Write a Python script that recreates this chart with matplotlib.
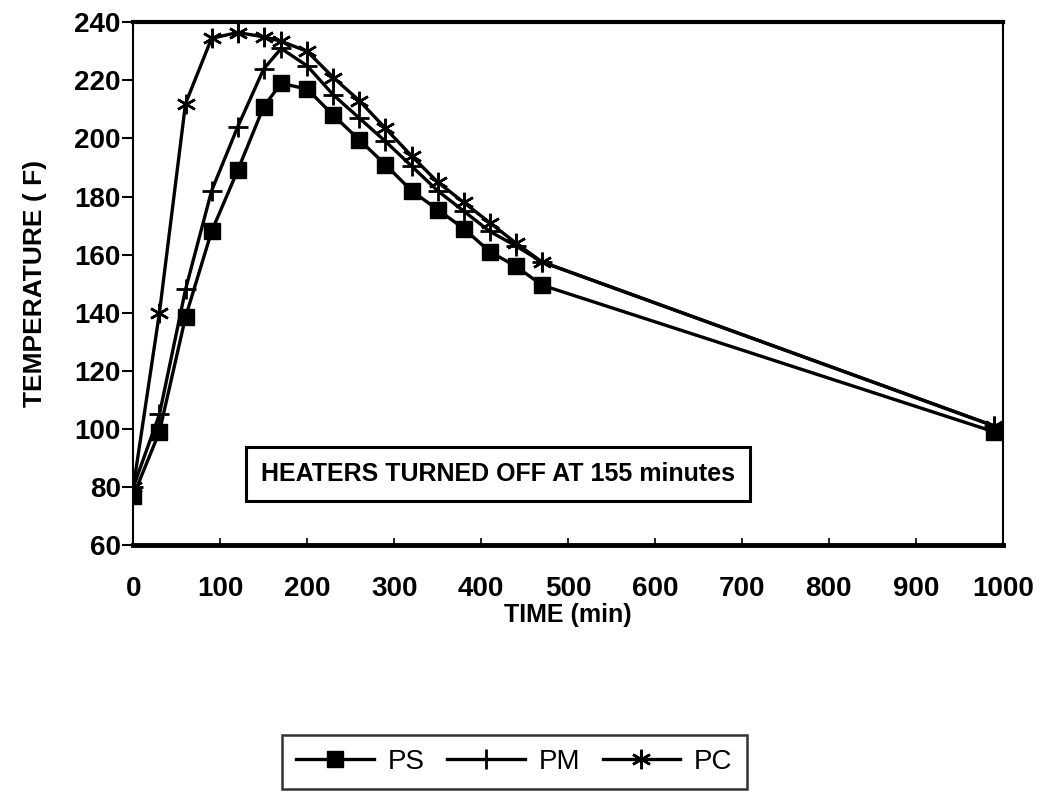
import matplotlib
matplotlib.use("Agg")
import matplotlib.pyplot as plt

plt.rcParams['font.family'] = ['Liberation Sans', 'DejaVu Sans']

# Sample times (min)
time_min = [0, 30, 60, 90, 120, 150, 170, 200, 230, 260, 290, 320, 350, 380, 410, 440, 470, 990]

# Temperatures (F)
ps_temp = [77, 99, 138.5, 168, 189, 211, 219, 217, 208, 199.5, 191, 182, 175.5, 169, 161, 156, 149.5, 99]
pm_temp = [80, 105, 148, 182, 204, 224, 231, 225, 215, 207, 199, 190.5, 182, 175, 168, 163, 157.5, 101]
pc_temp = [80, 140, 212, 234.5, 236.5, 235, 233.5, 230, 221, 213, 203.5, 194, 185, 178, 171, 164, 157.5, 101]

series_names = ["PS", "PM", "PC"]
x_ticks = list(range(0, 1001, 100))
y_ticks = list(range(60, 241, 20))
note_text = "HEATERS TURNED OFF AT 155 minutes"

fig = plt.figure(figsize=(10.5, 7.98), dpi=100)
ax = fig.add_axes([0.127, 0.317, 0.828, 0.655])

ax.plot(time_min, ps_temp, color='black', lw=2.4, marker='s', ms=12,
        mfc='black', mec='black', label=series_names[0])
ax.plot(time_min, pm_temp, color='black', lw=2.4, marker='+', ms=15,
        mew=2, label=series_names[1])
ax.plot(time_min, pc_temp, color='black', lw=2.4, marker=(6, 2, 0), ms=14,
        mew=1.8, label=series_names[2])

ax.set_xlim(0, 1000)
ax.set_ylim(60, 240)
ax.set_xticks(x_ticks)
ax.set_yticks(y_ticks)
ax.tick_params(axis='y', direction='out', length=8, width=1.5, labelsize=20, pad=1)
ax.tick_params(axis='x', direction='in', length=5, width=1.2, labelsize=20, pad=22)
for lbl in ax.get_xticklabels() + ax.get_yticklabels():
    lbl.set_fontweight('bold')

ax.spines['top'].set_linewidth(3)
ax.spines['bottom'].set_linewidth(3.5)
ax.spines['left'].set_linewidth(1.5)
ax.spines['right'].set_linewidth(1.5)

ax.set_xlabel("TIME (min)", fontsize=18, fontweight='bold', labelpad=1)
ax.set_ylabel("TEMPERATURE ( F)", fontsize=19, fontweight='bold', labelpad=20)

ax.text(0.42, 0.135, note_text, transform=ax.transAxes, ha='center', va='center',
        fontsize=18, fontweight='bold',
        bbox=dict(boxstyle='square,pad=0.6', fc='white', ec='black', lw=2.2))

fig.legend(loc='center', bbox_to_anchor=(0.49, 0.045), ncol=3, fontsize=20,
           frameon=True, fancybox=False, edgecolor='black', handlelength=2.8,
           columnspacing=0.8, handletextpad=0.5, borderpad=0.5)
leg = fig.legends[0]
leg.get_frame().set_linewidth(1.8)

fig.savefig("out.png", dpi=100)
